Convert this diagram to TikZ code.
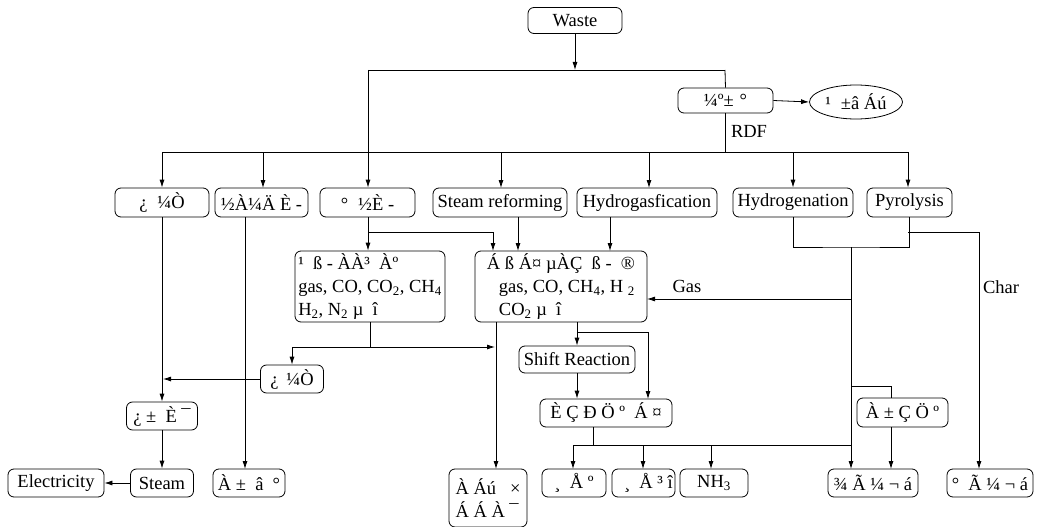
\documentclass[tikz,border=0pt]{standalone}
\usepackage{fontspec}
\setmainfont{Liberation Serif}
\usetikzlibrary{arrows.meta,shapes.geometric}
\begin{document}
\begin{tikzpicture}[x=1pt,y=-1pt,
  txt/.style={font=\fontsize{18.5}{23}\selectfont},
  box/.style={txt,draw,rounded corners=6pt,line width=0.8pt,inner sep=0pt},
  sz/.style 2 args={minimum width=#1,minimum height=#2},
  ln/.style={line width=0.8pt},
  ar/.style={ln,-{Latex[length=8pt,width=5pt]}},
  lbl/.style={txt,inner sep=0pt}]
\useasboundingbox (0,0) rectangle (1037,527);

% ---- boxes ----
\node[box,sz={94pt}{26pt}] (waste) at (575,20.5) {Waste};
\node[box,sz={95pt}{25pt}] (sort) at (725.5,100.5) {¼º±\hspace{6pt}°};
\node[txt,draw,ellipse,line width=0.8pt,inner sep=0pt,sz={93pt}{34pt}] (fill) at (856,102) {¹\hspace{10pt}±â Áú};

\node[box,sz={94pt}{29pt}] (b1) at (162,202.5) {¿\hspace{10pt}¼Ò};
\node[box,sz={93pt}{29pt}] (b2) at (261.5,202.5) {½À¼Ä È -};
\node[box,sz={95pt}{29pt}] (b3) at (367.5,202.5) {°\hspace{10pt}½È -};
\node[box,sz={134pt}{29pt}] (b4) at (500,202.5) {Steam reforming};
\node[box,sz={140pt}{29pt}] (b5) at (647,202.5) {Hydrogasfication};
\node[box,sz={120pt}{29pt}] (b6) at (793,202.5) {Hydrogenation};
\node[box,sz={85pt}{29pt}] (b7) at (909.5,202.5) {Pyrolysis};

\node[box,sz={150pt}{71pt},align=left] (gasL) at (370,286.5)
  {¹\ \ ß - ÀÀ³\ \ Àº\\gas, CO, CO\textsubscript{2}, CH\textsubscript{4}\\H\textsubscript{2}, N\textsubscript{2} µ\ \ î};
\node[box,sz={172pt}{71pt},align=left] (gasR) at (561,286.5)
  {Á ß Á¤ µÀÇ\ \ ß -\ \ ®\\\hspace{12pt}gas, CO, CH\textsubscript{4}, H \textsubscript{2}\\\hspace{12pt}CO\textsubscript{2} µ\ \ î};

\node[box,sz={116pt}{27pt}] (shift) at (577,359.5) {Shift Reaction};
\node[box,sz={132pt}{28pt}] (heat) at (606,413) {È Ç Ð Ö º\ \ Á ¤};
\node[box,sz={63pt}{28pt}] (ss) at (292,379) {¿\hspace{8pt}¼Ò};
\node[box,sz={71pt}{28pt}] (ra) at (162,416) {¿\ ±\ \ È ¯};
\node[box,sz={91pt}{29pt}] (ab) at (902.5,412.5) {À ± Ç Ö º};

\node[box,sz={96pt}{28pt}] (elec) at (56,483) {Electricity};
\node[box,sz={63pt}{28pt}] (steam) at (162,483) {Steam};
\node[box,sz={72pt}{28pt}] (pw) at (249,483) {À ±\ \ â\ \ °};
\node[box,sz={78pt}{58pt},align=left] (tar) at (488,498) {À Áú\ \ \ ×\\Á Á À ¯};
\node[box,sz={64pt}{28pt}] (p1) at (574,483) {¸\ \ Å º};
\node[box,sz={63pt}{28pt}] (p2) at (643.5,483) {¸\ \ Å ³\rlap{\ î}};
\node[box,sz={68pt}{28pt}] (nh) at (714,483) {NH\textsubscript{3}};
\node[box,sz={90pt}{28pt}] (hh) at (873,483) {¾ Ã ¼ ¬ á};
\node[box,sz={86pt}{28pt}] (cb) at (990,483) {°\ \ Ã ¼ ¬ á};

% ---- labels ----
\node[lbl] (rdf) at (749,131) {RDF};
\node[lbl] (gaslbl) at (687,286) {Gas};
\node[lbl] (charlbl) at (1001,287) {Char};

% ---- junction points ----
\coordinate (tl) at (368,70);
\coordinate (tr) at (725,70);
\coordinate (bl) at (162,152);
\coordinate (br) at (908,152);
\coordinate (j1) at (368,232);
\coordinate (j2) at (370,347);
\coordinate (j3) at (577,332);
\coordinate (j4) at (851,247);
\coordinate (j5) at (851,299);
\coordinate (j6) at (851,386);
\coordinate (j7) at (908,232);
\coordinate (h1) at (573,445);
\coordinate (h2) at (851,445);

% ---- connectors ----
\draw[ar] (waste.south) -- (waste.south |- tl);
\draw[ln] (tl) -- (tr);
\draw[ar] (tl) -- (tl |- b3.north);
\draw[ln] (tr) -- (sort.north);
\draw[ar] (sort.east) -- (fill.west);
\draw[ln] (sort.south) -- (sort.south |- bl);
\draw[ln] (bl) -- (br);
\draw[ar] (bl) -- (b1.north);
\draw[ar] (263,152) -- (263,188);
\draw[ar] (501,152) -- (501,188);
\draw[ar] (649,152) -- (649,188);
\draw[ar] (793,152) -- (b6.north);
\draw[ar] (br) -- (br |- b7.north);

% left column
\draw[ar] (b1.south) -- (ra.north);
\draw[ar] (ra.south) -- (steam.north);
\draw[ar] (steam.west) -- (elec.east);
\draw[ar] (245,217) -- (245,469);

% gasification
\draw[ar] (b3.south -| tl) -- (tl |- gasL.north);
\draw[ar] (j1) -| (493,251);
\draw[ar] (518,217) -- (518,251);
\draw[ar] (610,217) -- (610,251);
\draw[ln] (gasL.south) -- (j2);
\draw[ar] (j2) -| (ss.north);
\draw[ar] (j2) -- (495,347);
\draw[ar] (ss.west) -- (163,379);

% gas cleaning
\draw[ar] (496,322) -- (496,469);
\draw[ar] (gasR.south -| shift.north) -- (shift.north);
\draw[ar] (j3) -| (648,399);
\draw[ar] (shift.south) -- (shift.south |- heat.north);
\draw[ln] (593,427) -- (593,445);
\draw[ln] (h1) -- (h2);
\draw[ar] (h1) -- (573,469);
\draw[ar] (643,445) -- (643,469);
\draw[ar] (711,445) -- (711,469);

% hydrogenation / pyrolysis
\draw[ln] (b6.south) |- (j4) -| (b7.south);
\draw[ar] (j4) -- (851,469);
\draw[ar] (j5) -- (647,299);
\draw[ln] (j6) -| (891,398);
\draw[ar] (891,427) -- (891,469);
\draw[ar] (j7) -| (979,469);
\end{tikzpicture}
\end{document}
